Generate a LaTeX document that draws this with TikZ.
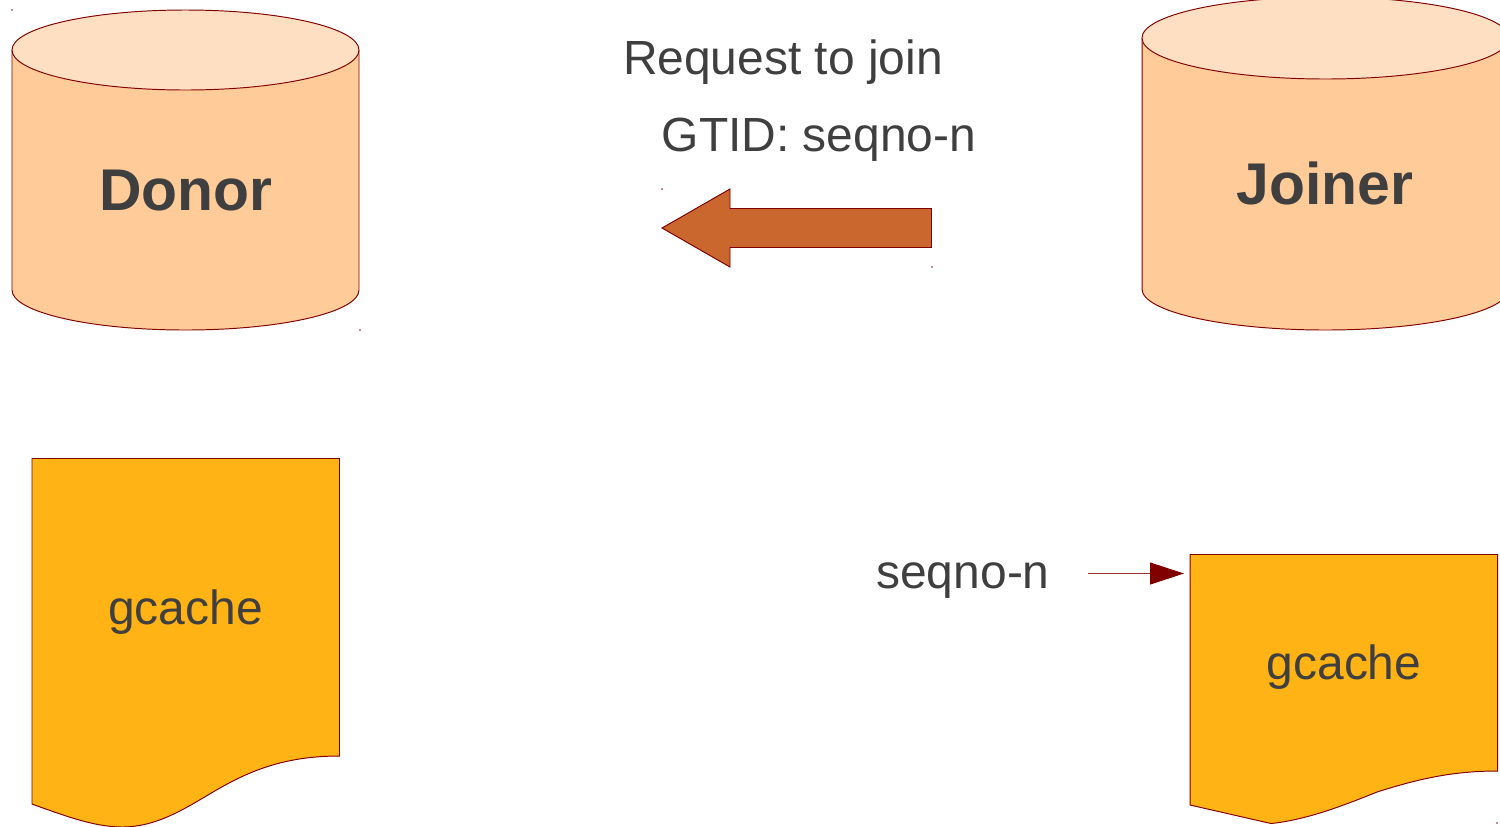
\documentclass[tikz,border=0pt]{standalone}
\usepackage{fontspec}
\setmainfont{Liberation Sans}
\usepackage{xcolor}
\usetikzlibrary{arrows.meta,positioning,calc}

\definecolor{linered}{HTML}{800000}
\definecolor{bodyorange}{HTML}{FFCC99}
\definecolor{toporange}{HTML}{FFDFC2}
\definecolor{pageamber}{HTML}{FFB315}
\definecolor{arrowrust}{HTML}{C9672F}
\definecolor{textgray}{HTML}{3F3F3F}

\tikzset{
    shapeline/.style={draw=linered, line width=0.55pt},
    bigtext/.style={anchor=base, inner sep=0pt, text=textgray, font=\fontsize{27.3}{32}\selectfont},
    boldtext/.style={anchor=base, inner sep=0pt, text=textgray, font=\fontsize{33.5}{40}\selectfont\bfseries},
    speck/.style={fill=linered, opacity=0.45}
}

\begin{document}
\begin{tikzpicture}[x=0.02cm, y=-0.02cm]
    \clip (0,0) rectangle (1500,826);
    \useasboundingbox (0,0) rectangle (1500,826);

    % Donor and Joiner cylinders
    \foreach \cx/\rx/\ry/\topy/\boty in {185.5/173.5/40/50/290, 1325.5/183.5/41/38/289} {
        \fill[bodyorange] (\cx-\rx,\topy) -- (\cx-\rx,\boty)
            arc[start angle=180, end angle=360, x radius=\rx, y radius=-\ry]
            -- (\cx+\rx,\topy) -- cycle;
        \draw[shapeline] (\cx-\rx,\topy) -- (\cx-\rx,\boty)
            arc[start angle=180, end angle=360, x radius=\rx, y radius=-\ry]
            -- (\cx+\rx,\topy);
        \filldraw[shapeline, fill=toporange] (\cx,\topy) ellipse[x radius=\rx, y radius=\ry];
    }
    \node[boldtext] (donor) at (186,210) {Donor};
    \node[boldtext] (joiner) at (1325,204) {Joiner};

    % request arrow
    \filldraw[shapeline, fill=arrowrust] (662,228) -- (730,189) -- (730,208.5) -- (931.5,208.5)
        -- (931.5,247.5) -- (730,247.5) -- (730,267) -- cycle;
    \node[bigtext] (request) at (783,74) {Request to join};
    \node[bigtext] (gtid) at (819,151) {GTID: seqno-n};

    % gcache pages
    \filldraw[shapeline, fill=pageamber] (32,458.5) -- (339.5,458.5) -- (339.5,756)
        .. controls (290,756) and (255,768) .. (220,788)
        .. controls (190,805) and (160,827) .. (122,827)
        .. controls (95,827) and (65,816) .. (32,804) -- cycle;
    \node[bigtext] (gcacheleft) at (185.5,624) {gcache};

    \filldraw[shapeline, fill=pageamber] (1190,554.5) -- (1497.5,554.5) -- (1497.5,771)
        .. controls (1450,771) and (1415,780) .. (1377,792)
        .. controls (1340,807) and (1305,820) .. (1271,823.5)
        -- (1190,805) -- cycle;
    \node[bigtext] (gcacheright) at (1344,679) {gcache};

    % seqno pointer
    \node[bigtext] (seqno) at (963,588.5) {seqno-n};
    \coordinate (pointerstart) at (1088,573.5);
    \coordinate (pointerend) at (1184,573.5);
    \draw[draw=linered!80, line width=0.55pt, -{Triangle[length=0.68cm, width=0.44cm, color=linered, fill=linered]}] (pointerstart) -- (pointerend);

    % corner specks
    \foreach \px/\py in {12/10, 360/330, 662/189, 932/267, 1497/823} {
        \fill[speck] (\px-0.6,\py-0.6) rectangle (\px+0.6,\py+0.6);
    }
\end{tikzpicture}
\end{document}
